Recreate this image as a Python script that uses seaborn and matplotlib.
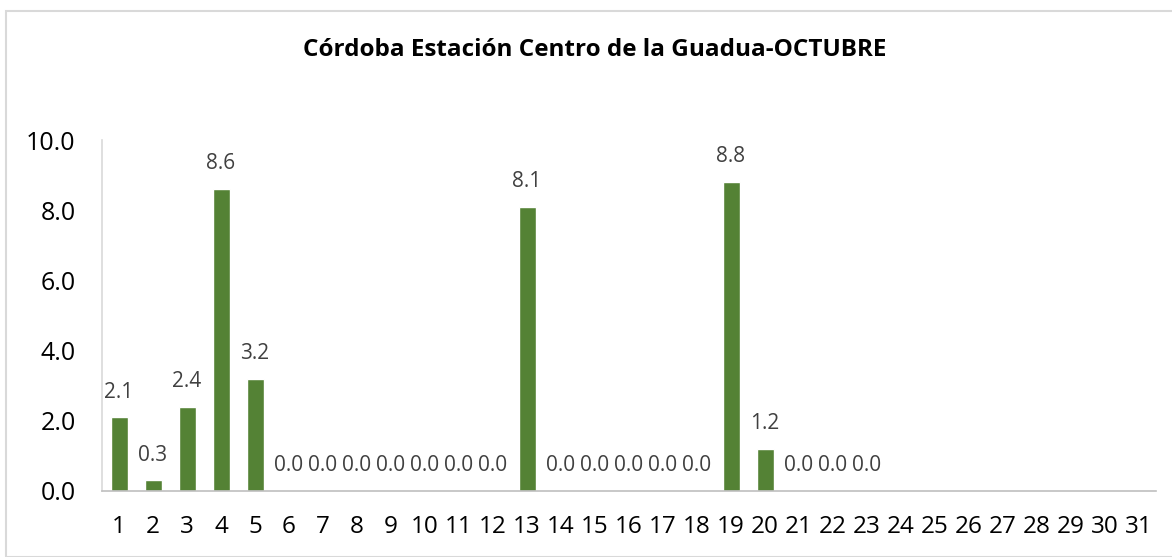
import numpy as np
import pandas as pd
import matplotlib
matplotlib.use("Agg")
import matplotlib.pyplot as plt
import seaborn as sns
from matplotlib.patches import Rectangle

days = [str(d) for d in range(1, 32)]
values = [2.1, 0.3, 2.4, 8.6, 3.2, 0.0, 0.0, 0.0, 0.0, 0.0, 0.0, 0.0, 8.1,
          0.0, 0.0, 0.0, 0.0, 0.0, 8.8, 1.2, 0.0, 0.0, 0.0,
          np.nan, np.nan, np.nan, np.nan, np.nan, np.nan, np.nan, np.nan]
title = "Córdoba Estación Centro de la Guadua-OCTUBRE"
yticks = [0.0, 2.0, 4.0, 6.0, 8.0, 10.0]

sns.set_theme(style="white")
plt.rcParams['font.family'] = ['Open Sans', 'DejaVu Sans']

df = pd.DataFrame({"day": days, "value": values})

fig = plt.figure(figsize=(11.72, 5.57), dpi=100)
ax = fig.add_axes([102/1172, 66/557, (1156-102)/1172, (491-140)/557])

sns.barplot(data=df, x="day", y="value", color="#548235", width=0.5,
            saturation=1, ax=ax, order=days)

for i, v in enumerate(values):
    if not np.isnan(v):
        ax.text(i, v + 0.42, f"{v:.1f}", ha="center", va="bottom",
                fontsize=15, color="#404040")

ax.set_ylim(0, 10)
ax.set_xlim(-0.5, len(days) - 0.5)
ax.set_yticks(yticks)
ax.set_yticklabels([f"{t:.1f}" for t in yticks], fontsize=18, color="#000000")
ax.set_xticks(range(len(days)))
ax.set_xticklabels(days, fontsize=17.5, color="#000000")
ax.tick_params(axis="x", pad=17, length=0)
ax.tick_params(axis="y", pad=19, length=0)
ax.set_xlabel("")
ax.set_ylabel("")
for s in ["top", "right"]:
    ax.spines[s].set_visible(False)
ax.spines["left"].set_color("#d9d9d9")
ax.spines["bottom"].set_color("#bfbfbf")
ax.spines["left"].set_linewidth(1.2)
ax.spines["bottom"].set_linewidth(1.2)

fig.text(595/1172, 1 - 50/557, title, ha="center", va="center",
         fontsize=17.5, fontweight="bold", color="#000000")

fig.patches.append(Rectangle((6/1172, 0), 1.1, 1 - 11/557, transform=fig.transFigure,
                             fill=False, edgecolor="#d9d9d9", linewidth=1.5))

fig.savefig("out.png", dpi=100)
